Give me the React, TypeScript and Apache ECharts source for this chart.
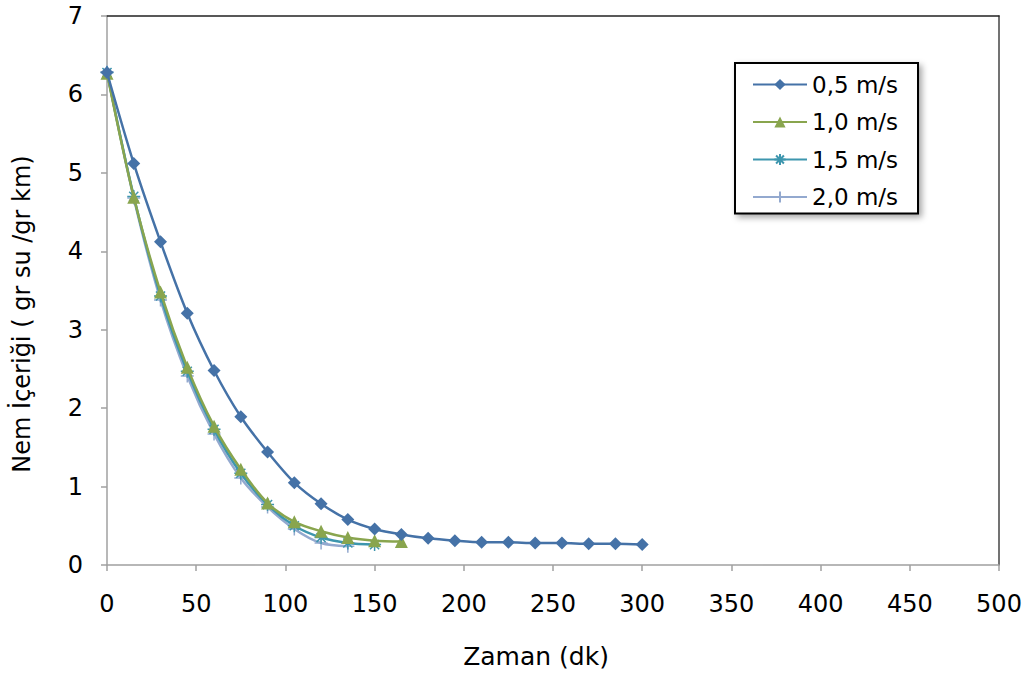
import React, { useEffect, useRef } from "react";
import * as echarts from "echarts";

const times05 = [0, 15, 30, 45, 60, 75, 90, 105, 120, 135, 150, 165, 180, 195, 210, 225, 240, 255, 270, 285, 300];
const vals05 = [6.28, 5.12, 4.12, 3.21, 2.48, 1.89, 1.44, 1.05, 0.78, 0.58, 0.46, 0.39, 0.34, 0.31, 0.29, 0.29, 0.28, 0.28, 0.27, 0.27, 0.26];
const times10 = [0, 15, 30, 45, 60, 75, 90, 105, 120, 135, 150, 165];
const vals10 = [6.27, 4.69, 3.48, 2.52, 1.77, 1.22, 0.79, 0.55, 0.43, 0.35, 0.31, 0.30];
const times15 = [0, 15, 30, 45, 60, 75, 90, 105, 120, 135, 150];
const vals15 = [6.28, 4.70, 3.43, 2.47, 1.73, 1.17, 0.77, 0.50, 0.35, 0.28, 0.26];
const times20 = [0, 15, 30, 45, 60, 75, 90, 105, 120, 135];
const vals20 = [6.29, 4.68, 3.38, 2.41, 1.67, 1.11, 0.74, 0.46, 0.28, 0.24];

const seriesNames = ["0,5 m/s", "1,0 m/s", "1,5 m/s", "2,0 m/s"];
const colors = ["#4572A7", "#89A54E", "#3D96AE", "#93A9CF"];
const xTicks = { min: 0, max: 500, interval: 50 };
const yTicks = { min: 0, max: 7, interval: 1 };
const xTitle = "Zaman (dk)";
const yTitle = "Nem İçeriği ( gr su /gr km)";

const ASTER = "path://M5,0L5,10M0,5L10,5M1.5,1.5L8.5,8.5M8.5,1.5L1.5,8.5";
const PLUS = "path://M5,0L5,10M0,5L10,5";

const FONT = "DejaVu Sans, Liberation Sans, Arial, sans-serif";

function pairs(t: number[], v: number[]) {
  return t.map((x, i) => [x, v[i]]);
}

export default function App() {
  const ref = useRef<HTMLDivElement>(null);
  useEffect(() => {
    if (!ref.current) return;
    const chart = echarts.init(ref.current, null, { renderer: "svg" });
    const datasets = [
      pairs(times05, vals05),
      pairs(times10, vals10),
      pairs(times15, vals15),
      pairs(times20, vals20),
    ];
    const symbols = ["diamond", "triangle", ASTER, PLUS];
    const sizes = [13, 13, 13, 13];
    chart.setOption({
      animation: false,
      backgroundColor: "#ffffff",
      textStyle: { fontFamily: FONT },
      grid: { left: 107, top: 16, right: 28, bottom: 113, containLabel: false },
      graphic: [
        {
          type: "text",
          x: 536,
          y: 656,
          style: {
            text: xTitle,
            fontSize: 25,
            fontFamily: FONT,
            fill: "#000",
            align: "center",
            verticalAlign: "middle",
          },
        },
        {
          type: "text",
          x: 22,
          y: 314,
          rotation: Math.PI / 2,
          style: {
            text: yTitle,
            fontSize: 24,
            fontFamily: FONT,
            fill: "#000",
            align: "center",
            verticalAlign: "middle",
          },
        },
      ],
      legend: {
        orient: "vertical",
        left: 735,
        top: 63,
        padding: [10, 20, 5, 17],
        itemGap: 14.5,
        itemWidth: 54,
        itemHeight: 14,
        borderColor: "#000",
        borderWidth: 2,
        backgroundColor: "#fff",
        shadowColor: "rgba(0,0,0,0.35)",
        shadowBlur: 6,
        shadowOffsetX: 3,
        shadowOffsetY: 3,
        textStyle: { fontSize: 23, color: "#000", fontFamily: FONT },
        data: seriesNames.map((n) => ({ name: n })),
      },
      xAxis: [
        {
          type: "value",
          min: xTicks.min,
          max: xTicks.max,
          interval: xTicks.interval,
          axisLine: { show: true, onZero: false, lineStyle: { color: "#A0A0A0", width: 1.5 } },
          axisTick: { show: true, inside: false, length: 6, lineStyle: { color: "#A0A0A0", width: 1.5 } },
          axisLabel: { fontSize: 24, color: "#000", margin: 27, fontFamily: FONT },
          splitLine: { show: false },
        },
        {
          type: "value",
          position: "top",
          min: xTicks.min,
          max: xTicks.max,
          axisLine: { show: true, onZero: false, lineStyle: { color: "#222", width: 1.5 } },
          axisTick: { show: false },
          axisLabel: { show: false },
          splitLine: { show: false },
        },
      ],
      yAxis: [
        {
          type: "value",
          min: yTicks.min,
          max: yTicks.max,
          interval: yTicks.interval,
          axisLine: { show: true, onZero: false, lineStyle: { color: "#A0A0A0", width: 1.5 } },
          axisTick: { show: true, inside: false, length: 6, lineStyle: { color: "#A0A0A0", width: 1.5 } },
          axisLabel: { fontSize: 24, color: "#000", margin: 24, fontFamily: FONT },
          splitLine: { show: false },
        },
        {
          type: "value",
          position: "right",
          min: yTicks.min,
          max: yTicks.max,
          axisLine: { show: true, onZero: false, lineStyle: { color: "#444", width: 1.5 } },
          axisTick: { show: false },
          axisLabel: { show: false },
          splitLine: { show: false },
        },
      ],
      series: datasets.map((d, i) => ({
        name: seriesNames[i],
        type: "line",
        data: d,
        smooth: 0.3,
        symbol: symbols[i],
        symbolSize: sizes[i],
        showSymbol: true,
        lineStyle: { color: colors[i], width: 2.5 },
        itemStyle: {
          color: colors[i],
          borderColor: colors[i],
          borderWidth: i >= 2 ? 1.5 : 0,
        },
        z: 10 - i,
      })),
    });
    return () => chart.dispose();
  }, []);
  return (
    <div
      ref={ref}
      style={{ position: "fixed", left: 0, top: 0, width: 1027, height: 678 }}
    />
  );
}
